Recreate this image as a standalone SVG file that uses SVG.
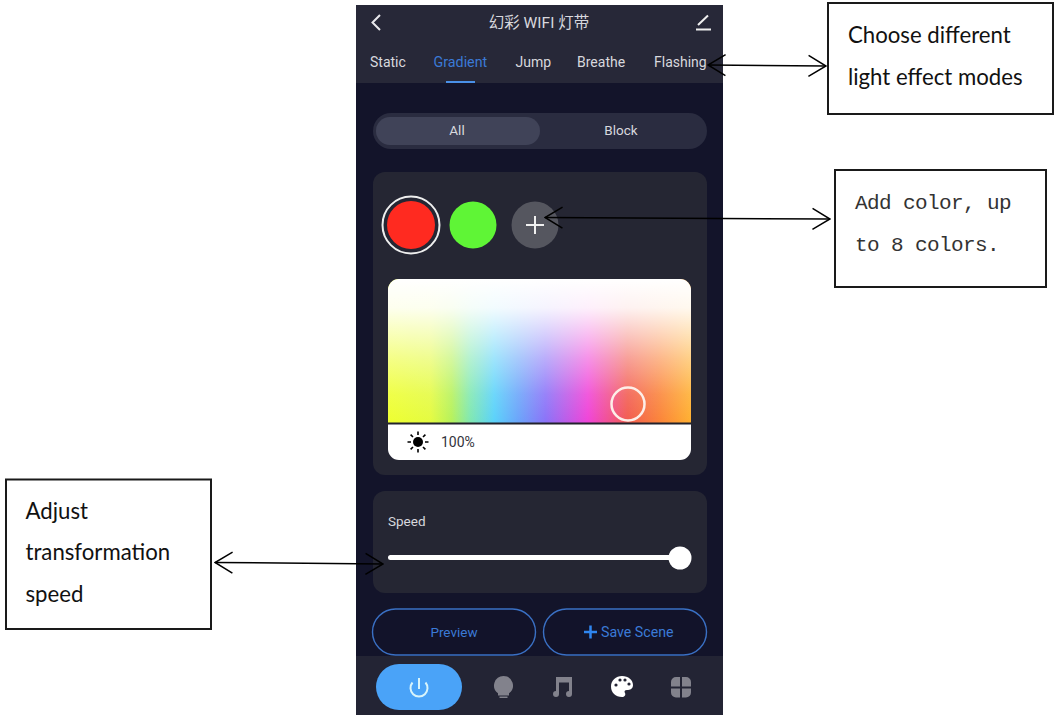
<svg xmlns="http://www.w3.org/2000/svg" width="1059" height="715" viewBox="0 0 1059 715">
<style>
.ui{font-family:"Roboto","Noto Sans CJK SC",sans-serif;font-size:14px;fill:#d8d8de}
.c{text-anchor:middle}
.box{fill:#fff;stroke:#1a1a1a;stroke-width:2}
.cal{font-family:"Lato","Open Sans",sans-serif;font-size:22.200px;fill:#111}
.mono{font-family:"Liberation Mono",monospace;font-size:21px;letter-spacing:-.6px;fill:#333}
.card{fill:#252633}
.btn{fill:#12132a;stroke:#3a70c4;stroke-width:1.4}
.arrow{fill:none;stroke:#000;stroke-width:1.5;marker-start:url(#head);marker-end:url(#head)}
.gi{fill:#82828c}
</style>
<defs>
<marker id="head" markerUnits="userSpaceOnUse" markerWidth="24" markerHeight="24" refX="23" refY="12" orient="auto-start-reverse" viewBox="0 0 24 24"><path d="M5.500 1.500L23 12L5.500 22.500" fill="none" stroke="#000" stroke-width="1.500"/></marker>
<linearGradient id="hue"><stop offset="0" stop-color="#eeff30"/><stop offset=".14" stop-color="#e4fb40"/><stop offset=".21" stop-color="#b6f25a"/><stop offset=".27" stop-color="#80e8b0"/><stop offset=".35" stop-color="#5ad2fa"/><stop offset=".43" stop-color="#6aa4fa"/><stop offset=".52" stop-color="#8a72f8"/><stop offset=".66" stop-color="#f043d8"/><stop offset=".79" stop-color="#f25c50"/><stop offset=".9" stop-color="#fb8538"/><stop offset="1" stop-color="#ffb030"/></linearGradient>
<linearGradient id="fade" x2="0" y2="1"><stop offset="0" stop-color="#fff"/><stop offset=".2" stop-color="#fff" stop-opacity=".92"/><stop offset=".55" stop-color="#fff" stop-opacity=".42"/><stop offset=".8" stop-color="#fff" stop-opacity=".12"/><stop offset="1" stop-color="#fff" stop-opacity="0"/></linearGradient>
<clipPath id="pick"><rect x="388" y="279" width="303" height="181" rx="11"/></clipPath>
</defs>
<rect width="1059" height="715" fill="#fff"/>
<g id="phone">
<rect x="356" y="5" width="367" height="710" fill="#13142a"/>
<rect x="356" y="5" width="367" height="78" fill="#272838"/>
<rect x="356" y="656" width="367" height="59" fill="#232434"/>
</g>
<g id="header">
<path d="M380 15L372.500 22.500L380 30" fill="none" stroke="#e8e8ec" stroke-width="2"/>
<text class="ui c" x="539" y="28" style="font-size:15.500px">幻彩 WIFI 灯带</text>
<path d="M696 29.500H711M698 25L708 15.500" fill="none" stroke="#eee" stroke-width="2"/>
</g>
<g id="tabs">
<text class="ui" x="370" y="67">Static</text>
<text class="ui" x="433.500" y="67" style="fill:#3b7ad6;font-size:14.300px">Gradient</text>
<text class="ui" x="515.500" y="67">Jump</text>
<text class="ui" x="577" y="67">Breathe</text>
<text class="ui" x="654" y="67">Flashing</text>
<rect x="446" y="81" width="29" height="2" fill="#4a90e8"/>
</g>
<g id="segment">
<rect x="373" y="113" width="334" height="36" rx="18" fill="#2a2c40"/>
<rect x="376" y="117" width="164" height="28" rx="14" fill="#404358"/>
<text class="ui c" x="457" y="135" style="font-size:13.500px">All</text>
<text class="ui c" x="621" y="135" style="font-size:13.500px">Block</text>
</g>
<g id="colorCard">
<rect class="card" x="373" y="172" width="334" height="303" rx="12"/>
<circle cx="411" cy="225" r="28.500" fill="none" stroke="#eee" stroke-width="2"/>
<circle cx="411" cy="225" r="24" fill="#ff2a20"/>
<circle cx="473" cy="225" r="23.500" fill="#5ff536"/>
<circle cx="535" cy="225" r="23.500" fill="#55565f"/>
<path d="M526 225H544M535 216V234" stroke="#f0f0f0" stroke-width="2"/>
<g clip-path="url(#pick)">
<rect x="388" y="279" width="303" height="144" fill="url(#hue)"/>
<rect x="388" y="279" width="303" height="144" fill="url(#fade)"/>
<rect x="388" y="423" width="303" height="37" fill="#fff"/>
<rect x="388" y="422.500" width="303" height="2" fill="#22222c"/>
</g>
<circle cx="628" cy="404" r="16.500" fill="none" stroke="#fdeee8" stroke-width="2.500"/>
<circle cx="418" cy="442" r="5" fill="#000"/>
<path d="M418 431.500V435M418 449V452.500M407.500 442H411M425 442H428.500M410.600 434.600L413 437M423 447L425.400 449.400M410.600 449.400L413 447M423 437L425.400 434.600" stroke="#000" stroke-width="1.600"/>
<text class="ui" x="441" y="446.500" style="font-size:14px;fill:#33333c">100%</text>
</g>
<g id="speedCard">
<rect class="card" x="373" y="491" width="334" height="102" rx="12"/>
<text class="ui" x="388" y="526" style="font-size:13.500px">Speed</text>
<rect x="388" y="555" width="292" height="5" rx="2.500" fill="#fff"/>
<circle cx="680" cy="558" r="11.500" fill="#fff"/>
</g>
<g id="buttons">
<rect class="btn" x="372.500" y="609" width="163" height="46" rx="23"/>
<text class="ui c" x="454" y="636.500" style="font-size:13.500px;fill:#3b7ad6">Preview</text>
<rect class="btn" x="543.500" y="609" width="163" height="46" rx="23"/>
<path d="M584 632H597M590.500 625.500V638.500" stroke="#2f86f0" stroke-width="2.500"/>
<text class="ui" x="601" y="636.500" style="font-size:14.200px;fill:#3b7ad6">Save Scene</text>
</g>
<g id="bottomNav">
<rect x="376" y="664" width="86" height="46" rx="23" fill="#4aa3f8"/>
<path d="M412.500 682.500A8.500 8.500 0 1 0 425.500 682.500M419 678V689" fill="none" stroke="#d8f4fb" stroke-width="2"/>
<path class="gi" d="M503.500 676a9.500 9.500 0 0 1 5.500 17.200v2.300h-11v-2.300a9.500 9.500 0 0 1 5.500-17.200zM499.500 696.500h8v1.500h-8z"/>
<path class="gi" d="M556 677h16v17a3 3 0 1 1-3-3v-8.500h-10v11.500a3 3 0 1 1-3-3z"/>
<path fill="#fff" d="M622 676c6.500 0 11 4 11 9 0 4-3 5-6 5-2.500 0-3 1.500-2 3 1 2-.5 4-3 4-6.500 0-11-4.500-11-10.500 0-6 5-10.500 11-10.500z"/>
<g fill="#232434"><circle cx="616" cy="685" r="1.600"/><circle cx="620" cy="680" r="1.600"/><circle cx="625" cy="680" r="1.600"/><circle cx="629" cy="684" r="1.600"/></g>
<g class="gi"><path d="M680 677v9.500h-9v-4.500a5 5 0 0 1 5-5zM682 677h4a5 5 0 0 1 5 5v4.500h-9zM671 688.500h9v9h-4a5 5 0 0 1-5-5zM682 688.500h9v4a5 5 0 0 1-5 5h-4z"/></g>
</g>
<g id="note-modes">
<rect class="box" x="828" y="3" width="225" height="111"/>
<text class="cal" x="848" y="42.500">Choose different</text>
<text class="cal" x="848" y="84.500">light effect modes</text>
</g>
<g id="note-color">
<rect class="box" x="835" y="170" width="211" height="117"/>
<text class="mono" x="855" y="209">Add color, up</text>
<text class="mono" x="855" y="250.500">to 8 colors.</text>
</g>
<g id="note-speed">
<rect class="box" x="6" y="479.500" width="205" height="149.500"/>
<text class="cal" x="25.500" y="519">Adjust</text>
<text class="cal" x="25.500" y="560">transformation</text>
<text class="cal" x="25.500" y="602">speed</text>
</g>
<g id="connectors">
<path class="arrow" d="M708 65L826 66"/>
<path class="arrow" d="M545 217.500L830 219"/>
<path class="arrow" d="M215 562.500L383 564"/>
</g>
</svg>
